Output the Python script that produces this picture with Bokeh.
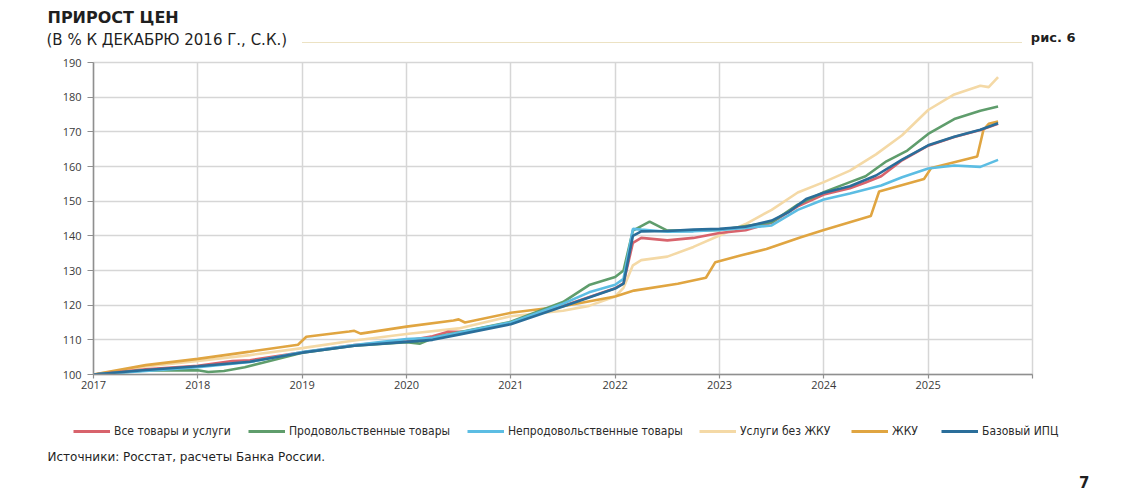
from bokeh.plotting import figure
from bokeh.models import Range1d, Legend, LegendItem, Label, FixedTicker
from bokeh.layouts import column
from bokeh.embed import file_html
from bokeh.resources import INLINE

# ---------------- texts ----------------
title_text = "ПРИРОСТ ЦЕН"
subtitle_text = "(В % К ДЕКАБРЮ 2016 Г., С.К.)"
fig_label_text = "рис. 6"
source_text = "Источники: Росстат, расчеты Банка России."
page_number_text = "7"

series_names = ["Все товары и услуги", "Продовольственные товары", "Непродовольственные товары",
                "Услуги без ЖКУ", "ЖКУ", "Базовый ИПЦ"]

year_ticks = [2017, 2018, 2019, 2020, 2021, 2022, 2023, 2024, 2025, 2026]
value_ticks = [100, 110, 120, 130, 140, 150, 160, 170, 180, 190]

# ---------------- data (index, Dec 2016 = 100) ----------------
cpi_t = [2017.0, 2017.5, 2018.0, 2018.33, 2018.5, 2019.0, 2019.5, 2020.0, 2020.25, 2020.4, 2020.6,
         2021.0, 2021.5, 2022.0, 2022.08, 2022.17, 2022.25, 2022.5, 2022.75, 2023.0, 2023.25, 2023.5,
         2023.75, 2024.0, 2024.25, 2024.4, 2024.55, 2024.75, 2025.0, 2025.25, 2025.5, 2025.67]
cpi_v = [100.0, 101.5, 102.5, 103.9, 104.1, 106.4, 108.5, 109.7, 111.0, 112.3, 112.4,
         114.9, 119.8, 124.9, 126.3, 138.0, 139.4, 138.7, 139.4, 140.8, 141.6, 143.8,
         148.5, 151.9, 153.7, 155.4, 157.2, 161.8, 166.0, 168.5, 170.5, 172.3]

food_t = [2017.0, 2017.5, 2018.0, 2018.1, 2018.25, 2018.45, 2018.65, 2019.0, 2019.5, 2020.0, 2020.13,
          2020.28, 2021.0, 2021.5, 2021.75, 2022.0, 2022.08, 2022.17, 2022.33, 2022.5, 2022.75, 2023.0,
          2023.5, 2023.75, 2024.0, 2024.25, 2024.4, 2024.6, 2024.8, 2025.0, 2025.25, 2025.5, 2025.67]
food_v = [100.0, 101.2, 101.2, 100.7, 101.0, 102.1, 103.6, 106.3, 108.3, 109.3, 108.9,
          110.8, 115.2, 120.9, 125.8, 128.1, 130.0, 141.5, 144.1, 141.5, 141.5, 141.7,
          143.9, 149.0, 152.6, 155.5, 157.2, 161.5, 164.6, 169.4, 173.7, 176.1, 177.3]

nonfood_t = [2017.0, 2017.5, 2018.0, 2018.5, 2019.0, 2019.5, 2020.0, 2020.25, 2021.0, 2021.5, 2021.75,
             2022.0, 2022.08, 2022.17, 2022.25, 2022.5, 2022.75, 2023.0, 2023.25, 2023.5, 2023.75,
             2024.0, 2024.25, 2024.55, 2024.75, 2025.0, 2025.25, 2025.5, 2025.67]
nonfood_v = [100.0, 101.0, 102.1, 103.6, 106.5, 108.5, 110.2, 110.6, 115.0, 120.4, 123.7,
             125.9, 127.6, 142.0, 141.8, 141.2, 141.3, 141.7, 142.3, 143.0, 147.5,
             150.5, 152.2, 154.5, 156.9, 159.4, 160.3, 159.9, 161.9]

serv_t = [2017.0, 2017.5, 2018.0, 2018.5, 2019.0, 2019.5, 2020.0, 2020.5, 2021.0, 2021.5, 2021.75,
          2022.0, 2022.08, 2022.17, 2022.25, 2022.5, 2022.75, 2023.0, 2023.25, 2023.5, 2023.75,
          2024.0, 2024.25, 2024.5, 2024.75, 2025.0, 2025.25, 2025.5, 2025.58, 2025.67]
serv_v = [100.0, 102.3, 103.9, 105.6, 107.6, 109.8, 111.7, 113.3, 116.8, 118.4, 119.8,
          122.5, 125.0, 131.5, 133.0, 134.0, 136.8, 140.1, 143.4, 147.5, 152.5,
          155.5, 158.8, 163.5, 169.0, 176.3, 180.8, 183.3, 182.9, 185.8]

hous_t = [2017.0, 2017.5, 2018.0, 2018.5, 2018.96, 2019.04, 2019.45, 2019.5, 2019.56, 2020.0, 2020.45,
          2020.5, 2020.56, 2021.0, 2021.5, 2022.0, 2022.18, 2022.6, 2022.87, 2022.96, 2023.2, 2023.45,
          2023.78, 2024.0, 2024.45, 2024.53, 2024.96, 2025.03, 2025.47, 2025.53, 2025.58, 2025.67]
hous_v = [100.0, 102.7, 104.5, 106.6, 108.6, 110.9, 112.4, 112.6, 111.8, 113.8, 115.6,
          115.9, 115.0, 117.8, 119.7, 122.5, 124.2, 126.2, 127.9, 132.4, 134.3, 136.2,
          139.6, 141.7, 145.7, 152.8, 156.4, 159.6, 162.9, 170.6, 172.3, 173.0]

core_t = [2017.0, 2017.5, 2018.0, 2018.5, 2019.0, 2019.5, 2020.0, 2020.25, 2020.5, 2021.0, 2021.5,
          2022.0, 2022.08, 2022.17, 2022.25, 2022.5, 2022.75, 2023.0, 2023.25, 2023.5, 2023.67,
          2023.83, 2024.0, 2024.25, 2024.5, 2024.75, 2025.0, 2025.25, 2025.5, 2025.67]
core_v = [100.0, 101.3, 102.4, 103.7, 106.3, 108.3, 109.4, 110.0, 111.5, 114.5, 119.6,
          124.8, 126.2, 140.0, 141.3, 141.4, 141.8, 142.0, 142.6, 144.4, 147.0,
          150.6, 152.4, 154.3, 157.4, 162.0, 166.1, 168.6, 170.6, 172.5]

colors = {"cpi": "#d8636c", "food": "#5f9d6c", "nonfood": "#5cbde3",
          "serv": "#f4d9a6", "hous": "#e0a541", "core": "#2a6e9a"}

W = 1136
HDR_H = 54
MAIN_H = 346
FTR_H = 92
TXT = "#1f1f1f"
GRID = "#d6d6d6"
LW = 2.6


def no_align(fig):
    try:
        fig.frame_align = False
    except Exception:
        pass


def bare_figure(h):
    f = figure(width=W, height=h, x_range=Range1d(0, W), y_range=Range1d(0, h),
               output_backend="svg", toolbar_location=None, min_border=0,
               x_axis_location=None, y_axis_location=None)
    f.grid.visible = False
    f.outline_line_color = None
    no_align(f)
    return f


# ---------------- header ----------------
hdr = bare_figure(HDR_H)
hdr.add_layout(Label(x=47, y=HDR_H - 17, x_units="screen", y_units="screen", text=title_text,
                     text_font="DejaVu Sans", text_font_style="bold", text_font_size="16px",
                     text_color=TXT, text_baseline="middle"))
hdr.add_layout(Label(x=46, y=HDR_H - 39, x_units="screen", y_units="screen", text=subtitle_text,
                     text_font="DejaVu Sans", text_font_size="15px",
                     text_color=TXT, text_baseline="middle"))
hdr.add_layout(Label(x=1075, y=HDR_H - 37, x_units="screen", y_units="screen", text=fig_label_text,
                     text_font="DejaVu Sans", text_font_style="bold", text_font_size="13px",
                     text_color=TXT, text_baseline="middle", text_align="right"))
hdr.segment(x0=[302], y0=[HDR_H - 42], x1=[1022], y1=[HDR_H - 42],
            line_color="#d9c587", line_width=1, line_dash="1 1")

# ---------------- main chart ----------------
p = figure(width=W, height=MAIN_H, x_range=Range1d(2017, 2026), y_range=Range1d(100, 190),
           output_backend="svg", toolbar_location=None,
           min_border_left=93, min_border_right=W - 1032, min_border_top=8,
           min_border_bottom=MAIN_H - 8 - 312)
no_align(p)
p.outline_line_color = GRID
p.outline_line_width = 1.5

p.xaxis.ticker = FixedTicker(ticks=year_ticks)
p.yaxis.ticker = FixedTicker(ticks=value_ticks)
p.xaxis.major_label_overrides = {2026: ""}
p.xgrid.ticker = FixedTicker(ticks=year_ticks)
p.ygrid.ticker = FixedTicker(ticks=value_ticks)
for g in (p.xgrid, p.ygrid):
    g.grid_line_color = GRID
    g.grid_line_width = 1.5
for ax in (p.xaxis, p.yaxis):
    ax.axis_line_color = "#8f8f8f"
    ax.axis_line_width = 1.5
    ax.major_tick_line_color = "#8f8f8f"
    ax.major_tick_line_width = 1.2
    ax.major_tick_in = 0
    ax.minor_tick_line_color = None
    ax.major_label_text_font = "Open Sans"
    ax.major_label_text_font_size = "11px"
    ax.major_label_text_color = "#3a3a3a"
p.yaxis.major_tick_out = 6
p.yaxis.major_label_standoff = 6
p.xaxis.major_tick_out = 4
p.xaxis.major_label_standoff = 2

series = [("serv", serv_t, serv_v), ("hous", hous_t, hous_v), ("cpi", cpi_t, cpi_v),
          ("food", food_t, food_v), ("nonfood", nonfood_t, nonfood_v), ("core", core_t, core_v)]
data_by_key = {k: (t, v) for k, t, v in series}
for key, t, v in series:
    p.line(t, v, line_color=colors[key], line_width=LW)

# ---------------- footer: legend + source ----------------
ftr = bare_figure(FTR_H)
legend_keys = ["cpi", "food", "nonfood", "serv", "hous", "core"]
legend_x = [73, 248, 467, 699, 851, 941]
for name, key, lx in zip(series_names, legend_keys, legend_x):
    t, v = data_by_key[key]
    # single starting point of the series: lies outside this panel's range, only feeds the legend swatch
    r = ftr.line(x=t[:1], y=v[:1], line_color=colors[key], line_width=3)
    lg = Legend(items=[LegendItem(label=name, renderers=[r])], orientation="horizontal",
                location=(lx, FTR_H - 38),
                glyph_width=37, glyph_height=14, label_height=14, label_width=10,
                label_standoff=4, spacing=0, padding=0, margin=0,
                label_text_font="DejaVu Sans Condensed, Liberation Sans",
                label_text_font_size="12px", label_text_color="#2a2a2a",
                border_line_color=None, background_fill_alpha=0)
    ftr.add_layout(lg)
ftr.add_layout(Label(x=47, y=FTR_H - 56, x_units="screen", y_units="screen", text=source_text,
                     text_font="DejaVu Sans", text_font_size="12px", text_color=TXT,
                     text_baseline="middle"))
ftr.add_layout(Label(x=1089, y=FTR_H - 81, x_units="screen", y_units="screen", text=page_number_text,
                     text_font="DejaVu Sans", text_font_style="bold", text_font_size="15px",
                     text_color=TXT, text_baseline="middle", text_align="right"))

layout = column(hdr, p, ftr, spacing=0)
open("out.html", "w").write(file_html(layout, INLINE))
